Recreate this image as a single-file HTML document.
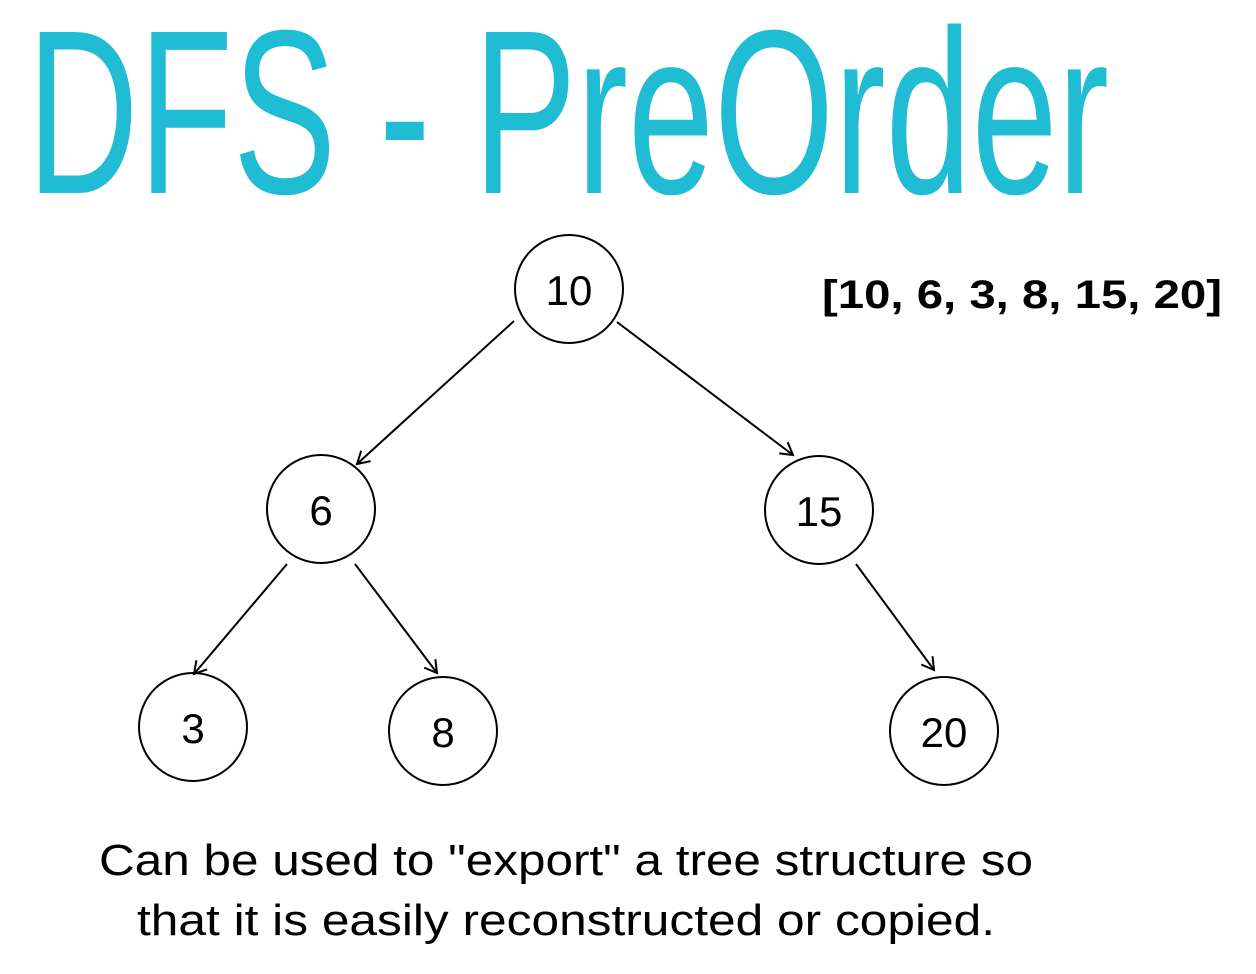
<!DOCTYPE html>
<html><head><meta charset="utf-8"><style>
html,body{margin:0;padding:0;background:#fff;}
svg{display:block;}
</style></head><body>
<svg width="1256" height="974" viewBox="0 0 1256 974" xmlns="http://www.w3.org/2000/svg">
<defs>
<marker id="a" markerWidth="20" markerHeight="20" refX="14" refY="10" orient="auto" markerUnits="userSpaceOnUse">
<path d="M2,3 L14,10 L2,17" fill="none" stroke="#000" stroke-width="2"/>
</marker>
</defs>
<text x="27" y="193" font-family="'Liberation Sans Narrow','Liberation Sans',sans-serif" font-size="234" fill="#1fbcd4" textLength="1082" lengthAdjust="spacingAndGlyphs">DFS - PreOrder</text>
<g stroke="#000" stroke-width="2" fill="none">
<circle cx="569" cy="289" r="54"/>
<circle cx="321" cy="509" r="54"/>
<circle cx="819" cy="510" r="54"/>
<circle cx="193" cy="727" r="54"/>
<circle cx="443" cy="731" r="54"/>
<circle cx="944" cy="731" r="54"/>
<line x1="514" y1="321" x2="357" y2="464" marker-end="url(#a)"/>
<line x1="617" y1="322" x2="793" y2="455" marker-end="url(#a)"/>
<line x1="287" y1="564" x2="194" y2="674" marker-end="url(#a)"/>
<line x1="355" y1="564" x2="437" y2="673" marker-end="url(#a)"/>
<line x1="856" y1="564" x2="934" y2="670" marker-end="url(#a)"/>
</g>
<g font-family="'Liberation Sans',sans-serif" font-size="42" text-anchor="middle" fill="#000">
<text x="569" y="305">10</text>
<text x="321" y="525">6</text>
<text x="819" y="526">15</text>
<text x="193" y="743">3</text>
<text x="443" y="747">8</text>
<text x="944" y="747">20</text>
</g>
<text x="822" y="308" font-family="'Liberation Sans',sans-serif" font-weight="bold" font-size="40" textLength="400" lengthAdjust="spacingAndGlyphs">[10, 6, 3, 8, 15, 20]</text>
<text x="99" y="875" font-family="'Liberation Sans',sans-serif" font-size="44" textLength="934" lengthAdjust="spacingAndGlyphs">Can be used to "export" a tree structure so</text>
<text x="137" y="935" font-family="'Liberation Sans',sans-serif" font-size="44" textLength="858" lengthAdjust="spacingAndGlyphs">that it is easily reconstructed or copied.</text>
</svg>
</body></html>
